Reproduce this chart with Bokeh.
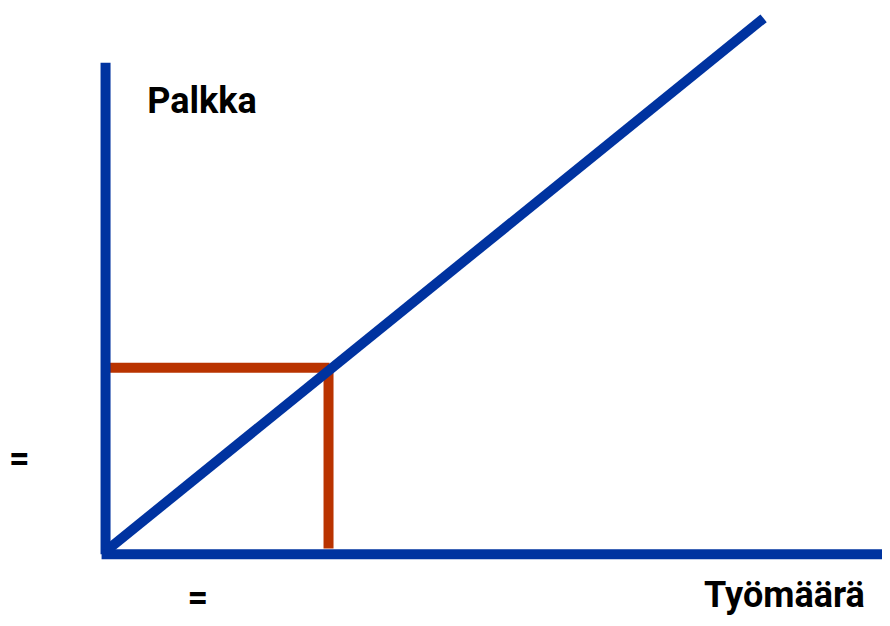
from bokeh.plotting import figure
from bokeh.models import Range1d
from bokeh.core.properties import value
from bokeh.embed import file_html
from bokeh.resources import INLINE

# Diagram data (units: origin at the axes' corner, y up)
y_axis_x = [0, 0]
y_axis_y = [0, 498]
x_axis_x = [-4, 784]
x_axis_y = [0, 0]
supply_x = [0, 664]
supply_y = [3, 543]
wage_x = [-4, 226]
wage_y = [189, 189]
work_x = [225, 225]
work_y = [189, 6]

label_text = ["Palkka", "Työmäärä"]
label_x = [42, 604]
label_y = [459, -41]
eq_text = ["=", "="]
eq_x = [-87, 93]
eq_y = [97, -44]

BLUE = "#0033A0"
RED = "#B93300"
FONT = "Roboto"

p = figure(width=882, height=618, output_backend="svg", toolbar_location=None,
           x_range=Range1d(-106, 784), y_range=Range1d(-65, 561),
           min_border=0, min_border_left=0, min_border_right=0,
           min_border_top=0, min_border_bottom=0)
p.axis.visible = False
p.grid.visible = False
p.outline_line_color = None
p.background_fill_color = "white"
p.border_fill_color = "white"

p.line(wage_x, wage_y, line_color=RED, line_width=10, line_cap="butt")
p.line(work_x, work_y, line_color=RED, line_width=10, line_cap="butt")
p.line(y_axis_x, y_axis_y, line_color=BLUE, line_width=10, line_cap="butt")
p.line(x_axis_x, x_axis_y, line_color=BLUE, line_width=10, line_cap="butt")
p.line(supply_x, supply_y, line_color=BLUE, line_width=10, line_cap="butt")

p.text(x=label_x, y=label_y, text=label_text, text_font=value(FONT),
       text_font_size="36px", text_font_style="bold", text_color="black",
       text_align="left", text_baseline="alphabetic")
p.text(x=eq_x, y=eq_y, text=eq_text, text_font=value(FONT),
       text_font_size="36px", text_font_style="bold", text_color="black",
       text_align="center", text_baseline="middle")

open("out.html", "w").write(file_html(p, INLINE))
